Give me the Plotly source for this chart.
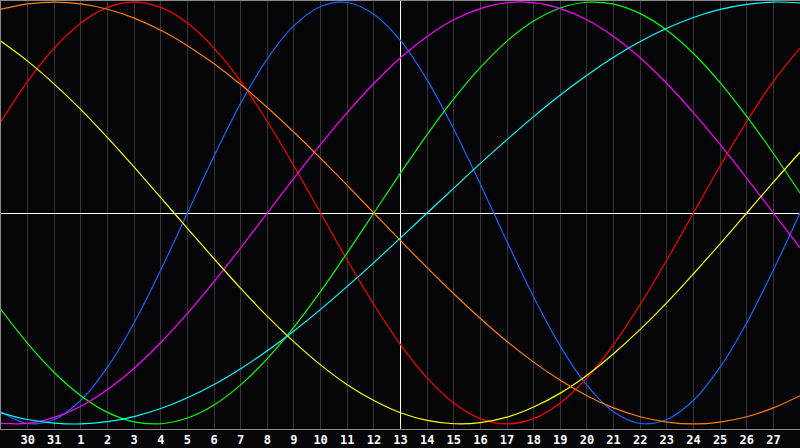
import plotly.graph_objects as go

# Day labels for each column (index 0 .. 30)
day_labels = ["29", "30", "31"] + [str(i) for i in range(1, 29)]
center_day = "13"

# Cycle values (percent), one per day
physical = [-94.2, -99.8, -97.9, -88.8, -73.1, -52.0, -27.0, 0.0, 27.0, 52.0, 73.1, 88.8, 97.9, 99.8, 94.2,
            81.7, 63.1, 39.8, 13.6, -13.6, -39.8, -63.1, -81.7, -94.2, -99.8, -97.9, -88.8, -73.1, -52.0, -27.0, 0.0]
emotional = [43.4, 62.4, 78.2, 90.1, 97.5, 100.0, 97.5, 90.1, 78.2, 62.4, 43.4, 22.3, 0.0, -22.3, -43.4,
             -62.4, -78.2, -90.1, -97.5, -100.0, -97.5, -90.1, -78.2, -62.4, -43.4, -22.3, 0.0, 22.3, 43.4, 62.4, 78.2]
intellectual = [-45.8, -61.8, -75.6, -86.6, -94.5, -99.0, -99.9, -97.2, -91.0, -81.5, -69.0, -54.1, -37.2, -18.9, 0.0,
                18.9, 37.2, 54.1, 69.0, 81.5, 91.0, 97.2, 99.9, 99.0, 94.5, 86.6, 75.6, 61.8, 45.8, 28.2, 9.5]
intuitive = [-99.7, -99.7, -96.9, -91.6, -83.7, -73.6, -61.4, -47.6, -32.5, -16.5, 0.0, 16.5, 32.5, 47.6, 61.4,
             73.6, 83.7, 91.6, 96.9, 99.7, 99.7, 96.9, 91.6, 83.7, 73.6, 61.4, 47.6, 32.5, 16.5, 0.0, -16.5]
aesthetic = [81.4, 72.0, 61.1, 49.0, 35.7, 21.7, 7.3, -7.3, -21.7, -35.7, -49.0, -61.1, -72.0, -81.4, -88.9,
             -94.7, -98.3, -99.9, -99.4, -96.8, -92.0, -85.4, -76.9, -66.7, -55.2, -42.5, -28.8, -14.6, 0.0, 14.6, 28.8]
awareness = [96.6, 99.1, 100.0, 99.1, 96.6, 92.4, 86.6, 79.3, 70.7, 60.9, 50.0, 38.3, 25.9, 13.1, 0.0,
             -13.1, -25.9, -38.3, -50.0, -60.9, -70.7, -79.3, -86.6, -92.4, -96.6, -99.1, -100.0, -99.1, -96.6, -92.4, -86.6]
spiritual = [-94.7, -97.9, -99.6, -100.0, -98.9, -96.5, -92.7, -87.6, -81.3, -73.8, -65.3, -55.9, -45.7, -34.8, -23.5,
             -11.8, 0.0, 11.8, 23.5, 34.8, 45.7, 55.9, 65.3, 73.8, 81.3, 87.6, 92.7, 96.5, 98.9, 100.0, 99.6]

series = [
    ("Physical", physical, "#1464ff"),
    ("Emotional", emotional, "#ff0000"),
    ("Intellectual", intellectual, "#00ff00"),
    ("Intuitive", intuitive, "#ff00ff"),
    ("Aesthetic", aesthetic, "#ffff00"),
    ("Awareness", awareness, "#ff8000"),
    ("Spiritual", spiritual, "#00ffff"),
]

x = list(range(len(day_labels)))
y_range = [-102.4, 100.5]
center_x = day_labels.index(center_day)

fig = go.Figure()
# white vertical "today" marker, drawn beneath the curves
fig.add_trace(go.Scatter(x=[center_x, center_x], y=y_range, mode="lines",
                         line=dict(color="#ffffff", width=1), hoverinfo="skip", showlegend=False))
for name, vals, col in series:
    fig.add_trace(go.Scatter(x=x, y=vals, mode="lines", name=name,
                             line=dict(color=col, width=1.2, shape="spline", smoothing=1),
                             showlegend=False))

tick_idx = list(range(1, len(day_labels) - 1))
fig.update_layout(
    width=800, height=448,
    margin=dict(l=1, r=0, t=1, b=19),
    paper_bgcolor="#050508",
    plot_bgcolor="#050508",
    showlegend=False,
    xaxis=dict(range=[0, len(day_labels) - 1], tickvals=tick_idx,
               ticktext=["<b>%s</b>" % day_labels[i] for i in tick_idx],
               showgrid=True, gridcolor="#353535", gridwidth=1, zeroline=False,
               showline=True, linecolor="#8a8a8a", linewidth=1, mirror=True,
               ticks="", tickfont=dict(color="#ffffff", size=12, family="DejaVu Sans Mono")),
    yaxis=dict(range=y_range, showgrid=False, showticklabels=False, ticks="",
               zeroline=True, zerolinecolor="#ffffff", zerolinewidth=1,
               showline=True, linecolor="#8a8a8a", linewidth=1, mirror=True),
)

fig.write_html("out.html", config={"displayModeBar": False},
               post_script="document.body.style.margin='0';document.body.style.background='#050508';")
